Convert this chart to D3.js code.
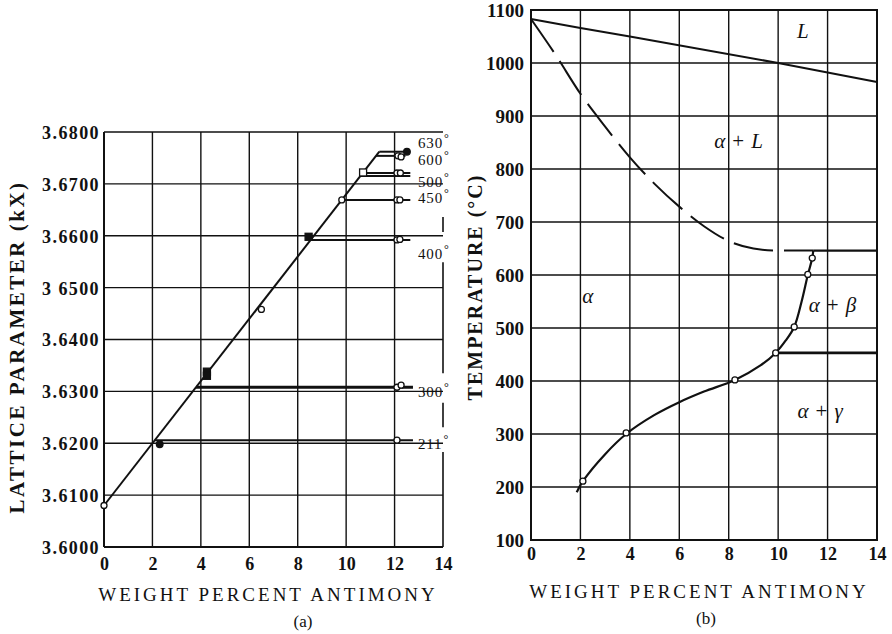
<!DOCTYPE html>
<html>
<head>
<meta charset="utf-8">
<script src="https://cdn.jsdelivr.net/npm/d3@7"></script>
<style>
  body { margin: 0; background: #fff; }
  svg { display: block; }
  text { font-family: "Liberation Serif", "Times New Roman", serif; fill: #111; }
</style>
</head>
<body>
<svg id="chart" width="892" height="634"></svg>
<script>
// ---- data: panel (a) lattice parameter vs wt% Sb ----
var pctTicks = [0, 2, 4, 6, 8, 10, 12, 14];
var latticeTicks = [3.60, 3.61, 3.62, 3.63, 3.64, 3.65, 3.66, 3.67, 3.68];
var latticeLabels = ['3.6000', '3.6100', '3.6200', '3.6300', '3.6400', '3 6500', '3.6600', '3.6700', '3.6800'];
var paramLine = [[0, 3.6080], [11.37, 3.6762]];
// isotherm: temperature, lattice value, start on line, end
var isoTemps  = ['630', '600', '500', '', '450', '400', '300', '211'];
var isoValues = [3.6762, 3.6754, 3.6721, 3.6715, 3.6669, 3.6592, 3.6308, 3.6206];
var isoStart  = [11.37, 11.23, 10.68, 10.58, 9.82, 8.53, 3.80, 2.10];
var isoEnd    = [12.65, 12.45, 12.65, 12.65, 12.65, 12.65, 12.76, 12.76];
var openCirclesA = [[0, 3.6080], [6.5, 3.6458], [9.82, 3.6669],
  [12.14, 3.6754], [12.27, 3.6752], [12.1, 3.6721], [12.24, 3.6721],
  [12.1, 3.6669], [12.22, 3.6669], [12.1, 3.6592], [12.22, 3.6593],
  [12.1, 3.6308], [12.27, 3.6312], [12.1, 3.6206]];
var filledDotsA = [[12.51, 3.6762], [2.3, 3.6198]];
var filledSquaresA = [[4.25, 3.6338], [4.25, 3.6330], [8.45, 3.6598]];
var openSquaresA = [[10.7, 3.6722]];
var rightFrameA = [[3.6636, 3.6607], [3.6549, 3.6335], [3.6278, 3.6231], [3.6183, 3.6000]];

// ---- data: panel (b) Cu-Sb phase diagram ----
var tempTicks = [100, 200, 300, 400, 500, 600, 700, 800, 900, 1000, 1100];
var liquidus = [[0, 1083], [2, 1066], [4, 1050], [10, 1000], [14, 964]];
var solidus = [[0, 1083], [1, 1015], [2, 942], [3, 880], [4, 822], [5, 772], [6, 729],
  [7, 692], [8, 664], [9, 650], [10, 646], [11.42, 646]];
var solvus = [[1.85, 190], [2.1, 211], [3.0, 262], [3.85, 300], [5, 336], [6, 360], [7, 380],
  [8.25, 402], [9.3, 430], [9.9, 453], [10.3, 476], [10.65, 502], [10.95, 550], [11.2, 600],
  [11.38, 632], [11.42, 646]];
var peritectic = [[11.42, 646], [14, 646]];
var eutectoid = [[9.9, 453], [14, 453]];
var solvusPoints = [[2.1, 211], [3.85, 302], [8.25, 402], [9.9, 453], [10.65, 502], [11.2, 601], [11.38, 632]];
var phaseNames = ['L', 'α + L', 'α', 'α + β', 'α + γ'];
var phaseAt = [[11.0, 1048], [8.4, 840], [2.3, 548], [12.2, 530], [11.7, 330]];

var svg = d3.select('#chart');

function grid(g, x, y, xt, yt, xEnd) {
  g.selectAll('line.v').data(xt).join('line').attr('class', 'v')
    .attr('x1', function(d) { return x(d); }).attr('x2', function(d) { return x(d); })
    .attr('y1', y.range()[0]).attr('y2', y.range()[1])
    .attr('stroke', '#111').attr('stroke-width', 1.4);
  g.selectAll('line.h').data(yt).join('line').attr('class', 'h')
    .attr('x1', x(0)).attr('x2', x(xEnd))
    .attr('y1', function(d) { return y(d); }).attr('y2', function(d) { return y(d); })
    .attr('stroke', '#111').attr('stroke-width', 1.4);
}

function marks(g, pts, x, y, kind) {
  var isSq = kind == 'sq' || kind == 'osq';
  var sel = g.append('g').selectAll(isSq ? 'rect' : 'circle').data(pts).join(isSq ? 'rect' : 'circle');
  if (isSq) {
    sel.attr('x', function(d) { return x(d[0]) - 3.5; }).attr('y', function(d) { return y(d[1]) - 3.5; })
      .attr('width', 7).attr('height', 7)
      .attr('fill', kind == 'sq' ? '#111' : '#fff').attr('stroke', '#111').attr('stroke-width', 1.3);
  } else {
    sel.attr('cx', function(d) { return x(d[0]); }).attr('cy', function(d) { return y(d[1]); })
      .attr('r', kind == 'dot' ? 3.3 : 3)
      .attr('fill', kind == 'dot' ? '#111' : '#fff').attr('stroke', '#111').attr('stroke-width', 1.3);
  }
}

// ================= panel (a) =================
var xA = d3.scaleLinear().domain([0, 14]).range([104, 443]);
var yA = d3.scaleLinear().domain([3.60, 3.68]).range([547, 132]);
var gA = svg.append('g');

grid(gA, xA, yA, pctTicks.slice(1, -1), latticeTicks.slice(1), 14);
// frame: left, bottom, broken right edge
gA.append('line').attr('x1', xA(0)).attr('x2', xA(0)).attr('y1', yA(3.60)).attr('y2', yA(3.68)).attr('stroke', '#111').attr('stroke-width', 2);
gA.append('line').attr('x1', xA(0)).attr('x2', xA(14)).attr('y1', yA(3.60)).attr('y2', yA(3.60)).attr('stroke', '#111').attr('stroke-width', 2);
gA.selectAll('line.rf').data(rightFrameA).join('line').attr('class', 'rf')
  .attr('x1', xA(14)).attr('x2', xA(14))
  .attr('y1', function(d) { return yA(d[0]); }).attr('y2', function(d) { return yA(d[1]); })
  .attr('stroke', '#111').attr('stroke-width', 1.6);

gA.append('g').attr('transform', 'translate(' + (xA(0) - 4) + ',0)')
  .call(d3.axisLeft(yA).tickValues(latticeTicks).tickSize(0).tickPadding(0)
    .tickFormat(function(d, i) { return latticeLabels[i]; }))
  .call(function(a) { a.select('.domain').remove(); })
  .selectAll('text').attr('font-family', 'Liberation Serif').attr('font-size', 18)
  .attr('font-weight', 'bold').attr('letter-spacing', 1.4).attr('dy', '0.36em');

gA.append('g').attr('transform', 'translate(0,' + (yA(3.60) + 10) + ')')
  .call(d3.axisBottom(xA).tickValues(pctTicks).tickSize(0).tickPadding(0))
  .call(function(a) { a.select('.domain').remove(); })
  .selectAll('text').attr('font-family', 'Liberation Serif').attr('font-size', 18)
  .attr('font-weight', 'bold');

// lattice parameter line and isotherms
var lineA = d3.line().x(function(d) { return xA(d[0]); }).y(function(d) { return yA(d[1]); });
gA.append('path').attr('d', lineA(paramLine)).attr('fill', 'none').attr('stroke', '#111').attr('stroke-width', 2);
isoValues.forEach(function(v, i) {
  gA.append('path').attr('d', lineA([[isoStart[i], v], [isoEnd[i], v]]))
    .attr('fill', 'none').attr('stroke', '#111').attr('stroke-width', i == 6 ? 2.8 : 2);
});
marks(gA, openCirclesA, xA, yA, 'open');
marks(gA, filledDotsA, xA, yA, 'dot');
marks(gA, filledSquaresA, xA, yA, 'sq');
marks(gA, openSquaresA, xA, yA, 'osq');

// temperature labels at right
var isoLabelY = [3.6770, 3.6737, 3.6694, 3.6694, 3.6664, 3.6556, 3.6290, 3.6189];
isoTemps.forEach(function(t, i) {
  if (!t) return;
  var tx = gA.append('text').attr('x', xA(12.97)).attr('y', yA(isoLabelY[i]))
    .attr('font-size', 15).attr('letter-spacing', 0.8);
  tx.append('tspan').text(t);
  tx.append('tspan').attr('dx', 1).attr('dy', -6).attr('font-size', 12).text('°');
});

gA.append('text').attr('transform', 'translate(24,347) rotate(-90)')
  .attr('text-anchor', 'middle').attr('font-size', 21).attr('font-weight', 'bold')
  .attr('letter-spacing', 2.5).text('LATTICE PARAMETER (kX)');
gA.append('text').attr('x', 268).attr('y', 601).attr('text-anchor', 'middle')
  .attr('font-size', 19).attr('letter-spacing', 3).text('WEIGHT PERCENT ANTIMONY');
gA.append('text').attr('x', 303).attr('y', 627).attr('text-anchor', 'middle')
  .attr('font-size', 17).text('(a)');

// ================= panel (b) =================
var xB = d3.scaleLinear().domain([0, 14]).range([531, 877]);
var yB = d3.scaleLinear().domain([100, 1100]).range([540, 10]);
var gB = svg.append('g');

grid(gB, xB, yB, pctTicks.slice(1, -1), tempTicks.slice(1, -1), 14);
gB.append('rect').attr('x', xB(0)).attr('y', yB(1100)).attr('width', xB(14) - xB(0))
  .attr('height', yB(100) - yB(1100)).attr('fill', 'none').attr('stroke', '#111').attr('stroke-width', 2);

gB.append('g').attr('transform', 'translate(' + (xB(0) - 7) + ',0)')
  .call(d3.axisLeft(yB).tickValues(tempTicks).tickSize(0).tickPadding(0).tickFormat(d3.format('d')))
  .call(function(a) { a.select('.domain').remove(); })
  .selectAll('text').attr('font-family', 'Liberation Serif').attr('font-size', 19)
  .attr('font-weight', 'bold').attr('dy', '0.36em');

gB.append('g').attr('transform', 'translate(0,' + (yB(100) + 7) + ')')
  .call(d3.axisBottom(xB).tickValues(pctTicks).tickSize(0).tickPadding(0))
  .call(function(a) { a.select('.domain').remove(); })
  .selectAll('text').attr('font-family', 'Liberation Serif').attr('font-size', 18)
  .attr('font-weight', 'bold');

var lineB = d3.line().x(function(d) { return xB(d[0]); }).y(function(d) { return yB(d[1]); });
gB.append('path').attr('d', lineB(liquidus)).attr('fill', 'none').attr('stroke', '#111').attr('stroke-width', 2);
gB.append('path').attr('d', lineB.curve(d3.curveMonotoneX)(solidus)).attr('fill', 'none')
  .attr('stroke', '#111').attr('stroke-width', 2).attr('stroke-dasharray', '40,11');
gB.append('path').attr('d', lineB.curve(d3.curveCatmullRom)(solvus)).attr('fill', 'none')
  .attr('stroke', '#111').attr('stroke-width', 2.2);
lineB.curve(d3.curveLinear);
gB.append('path').attr('d', lineB(peritectic)).attr('fill', 'none').attr('stroke', '#111').attr('stroke-width', 2.4);
gB.append('path').attr('d', lineB(eutectoid)).attr('fill', 'none').attr('stroke', '#111').attr('stroke-width', 2.6);
marks(gB, solvusPoints, xB, yB, 'open');

phaseNames.forEach(function(n, i) {
  var tx = gB.append('text').attr('x', xB(phaseAt[i][0])).attr('y', yB(phaseAt[i][1]))
    .attr('text-anchor', 'middle').attr('font-size', 21);
  n.split(' ').forEach(function(part, j) {
    tx.append('tspan').attr('dx', j ? 7 : 0)
      .attr('font-style', part == '+' ? 'normal' : 'italic').text(part);
  });
});

gB.append('text').attr('transform', 'translate(482,287) rotate(-90)')
  .attr('text-anchor', 'middle').attr('font-size', 20).attr('font-weight', 'bold')
  .attr('letter-spacing', 2).text('TEMPERATURE (°C)');
gB.append('text').attr('x', 699).attr('y', 598).attr('text-anchor', 'middle')
  .attr('font-size', 19).attr('letter-spacing', 3).text('WEIGHT PERCENT ANTIMONY');
gB.append('text').attr('x', 706).attr('y', 624).attr('text-anchor', 'middle')
  .attr('font-size', 17).text('(b)');
</script>
</body>
</html>
